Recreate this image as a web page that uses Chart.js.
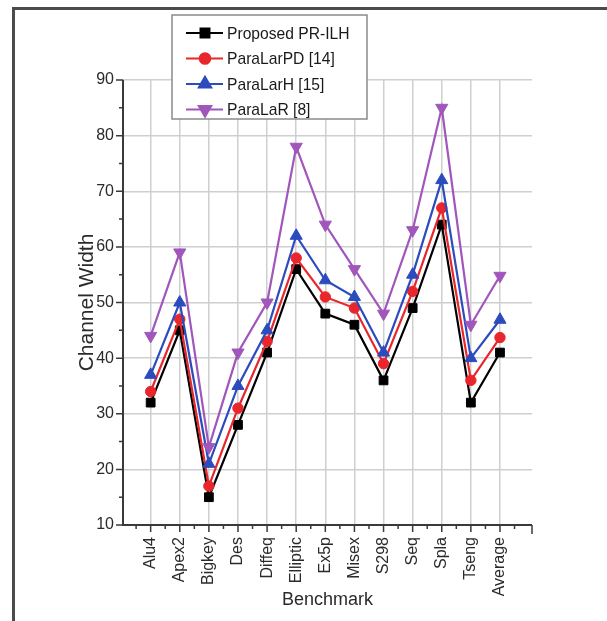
<!DOCTYPE html>
<html>
<head>
<meta charset="utf-8">
<script src="https://cdn.jsdelivr.net/npm/chart.js@4.4.1/dist/chart.umd.min.js"></script>
<style>
    html, body { margin: 0; padding: 0; background: #fff; }
    .wrap { position: relative; width: 607px; height: 621px; overflow: hidden; }
    .frame { position: absolute; left: 12px; top: 7px; right: -10px; bottom: -10px;
        border-left: 3px solid #4a4a4f; border-top: 3px solid #4a4a4f; }
    #lineChart { position: absolute; left: 0; top: 0; }
</style>
</head>
<body>
<div class="wrap">
    <div class="frame"></div>
    <canvas id="lineChart" width="607" height="621"></canvas>
</div>
<script>
const benchmarks = ['Alu4', 'Apex2', 'Bigkey', 'Des', 'Diffeq', 'Elliptic', 'Ex5p', 'Misex', 'S298', 'Seq', 'Spla', 'Tseng', 'Average'];
const proposed = [32, 45, 15, 28, 41, 56, 48, 46, 36, 49, 64, 32, 41];
const paraLarPD = [34, 47, 17, 31, 43, 58, 51, 49, 39, 52, 67, 36, 43.7];
const paraLarH = [37, 50, 21, 35, 45, 62, 54, 51, 41, 55, 72, 40, 46.9];
const paraLaR = [44, 59, 24, 41, 50, 78, 64, 56, 48, 63, 85, 46, 54.8];
const yTicks = [10, 20, 30, 40, 50, 60, 70, 80, 90];

const sans = "'Liberation Sans', Arial, sans-serif";
const axisColor = '#3a3a3a';

const toPoints = (arr) => arr.map((v, i) => ({ x: i, y: v }));

const makeSet = (label, data, color, style, rotation, radius, order) => ({
    label: label,
    data: toPoints(data),
    borderColor: color,
    backgroundColor: color,
    borderWidth: 2.2,
    pointStyle: style,
    pointRotation: rotation,
    pointRadius: radius,
    pointBorderWidth: 1,
    order: order,
    tension: 0
});

// axis lines + tick marks (origin style)
const axesPlugin = {
    id: 'axes',
    afterDatasetsDraw(chart) {
        const ctx = chart.ctx;
        const x = chart.scales.x, y = chart.scales.y;
        const area = chart.chartArea;
        ctx.save();
        ctx.strokeStyle = axisColor;
        ctx.lineWidth = 2;
        ctx.beginPath();
        ctx.moveTo(area.left, area.top);
        ctx.lineTo(area.left, area.bottom);
        ctx.lineTo(area.right, area.bottom);
        ctx.stroke();

        ctx.lineWidth = 1.5;
        ctx.beginPath();
        for (let v = 10; v <= 90; v += 5) {
            const py = y.getPixelForValue(v);
            const len = v % 10 === 0 ? 7 : 4;
            ctx.moveTo(area.left - len, py);
            ctx.lineTo(area.left, py);
        }
        for (let i = -0.5; i <= 12.5; i += 0.5) {
            const px = x.getPixelForValue(i);
            const len = Number.isInteger(i) ? 7 : 4;
            ctx.moveTo(px, area.bottom);
            ctx.lineTo(px, area.bottom + len);
        }
        ctx.moveTo(area.right, area.bottom);
        ctx.lineTo(area.right, area.bottom + 9);
        ctx.stroke();
        ctx.restore();
    }
};

// boxed legend overlapping the top of the plot
const legendPlugin = {
    id: 'boxLegend',
    afterDraw(chart) {
        const ctx = chart.ctx;
        ctx.save();
        ctx.fillStyle = '#fff';
        ctx.strokeStyle = '#8a8a8a';
        ctx.lineWidth = 1.5;
        ctx.fillRect(172, 15, 195, 104);
        ctx.strokeRect(172, 15, 195, 104);
        ctx.font = '17px ' + sans;
        ctx.textBaseline = 'middle';
        chart.data.datasets.forEach((ds, i) => {
            const ry = 33 + i * 25.5;
            ctx.strokeStyle = ds.borderColor;
            ctx.lineWidth = 2.2;
            ctx.beginPath();
            ctx.moveTo(186, ry);
            ctx.lineTo(223, ry);
            ctx.stroke();
            ctx.fillStyle = ds.backgroundColor;
            Chart.helpers.drawPoint(ctx, {
                pointStyle: ds.pointStyle,
                rotation: ds.pointRotation,
                radius: ds.pointRadius,
                borderWidth: 1
            }, 205, ry);
            // condensed look of the original legend font
            ctx.save();
            ctx.translate(227, ry + 1);
            ctx.scale(0.92, 1);
            ctx.fillStyle = '#1a1a1a';
            ctx.fillText(ds.label, 0, 0);
            ctx.restore();
        });
        ctx.restore();
    }
};

const main = () => {
    const ctx = document.querySelector('#lineChart').getContext('2d');
    new Chart(ctx, {
        type: 'line',
        data: {
            datasets: [
                makeSet('Proposed PR-ILH', proposed, '#000000', 'rect', 0, 6.2, 4),
                makeSet('ParaLarPD [14]', paraLarPD, '#e8262b', 'circle', 0, 5.2, 3),
                makeSet('ParaLarH [15]', paraLarH, '#2c4bbd', 'triangle', 0, 7, 2),
                makeSet('ParaLaR [8]', paraLaR, '#a056bb', 'triangle', 180, 7, 1)
            ]
        },
        options: {
            responsive: false,
            animation: false,
            layout: { padding: { top: 80, right: 75, left: 71, bottom: 6 } },
            plugins: { legend: { display: false }, tooltip: { enabled: false } },
            scales: {
                x: {
                    type: 'linear',
                    min: -0.95,
                    max: 13.1,
                    afterBuildTicks: (scale) => {
                        scale.ticks = benchmarks.map((b, i) => ({ value: i }));
                    },
                    afterFit: (scale) => { scale.height = 90; },
                    grid: { color: '#cfcfcf', lineWidth: 1.5, drawTicks: false },
                    border: { display: false },
                    ticks: {
                        autoSkip: false,
                        minRotation: 90,
                        maxRotation: 90,
                        padding: 12,
                        color: '#2a2a2a',
                        font: { family: sans, size: 16 },
                        callback: (v) => benchmarks[v]
                    },
                    title: {
                        display: true,
                        text: 'Benchmark',
                        color: '#2a2a2a',
                        font: { family: sans, size: 18 },
                        padding: 4
                    }
                },
                y: {
                    min: 10,
                    max: 90,
                    afterBuildTicks: (scale) => {
                        scale.ticks = yTicks.map(v => ({ value: v }));
                    },
                    afterFit: (scale) => { scale.width = 52; },
                    grid: { color: '#cfcfcf', lineWidth: 1.5, drawTicks: false },
                    border: { display: false },
                    ticks: {
                        padding: 9,
                        color: '#2a2a2a',
                        font: { family: sans, size: 16 }
                    },
                    title: {
                        display: true,
                        text: 'Channel Width',
                        color: '#2a2a2a',
                        font: { family: sans, size: 21 },
                        padding: 4
                    }
                }
            }
        },
        plugins: [axesPlugin, legendPlugin]
    });
};

window.addEventListener('DOMContentLoaded', main);
</script>
</body>
</html>
